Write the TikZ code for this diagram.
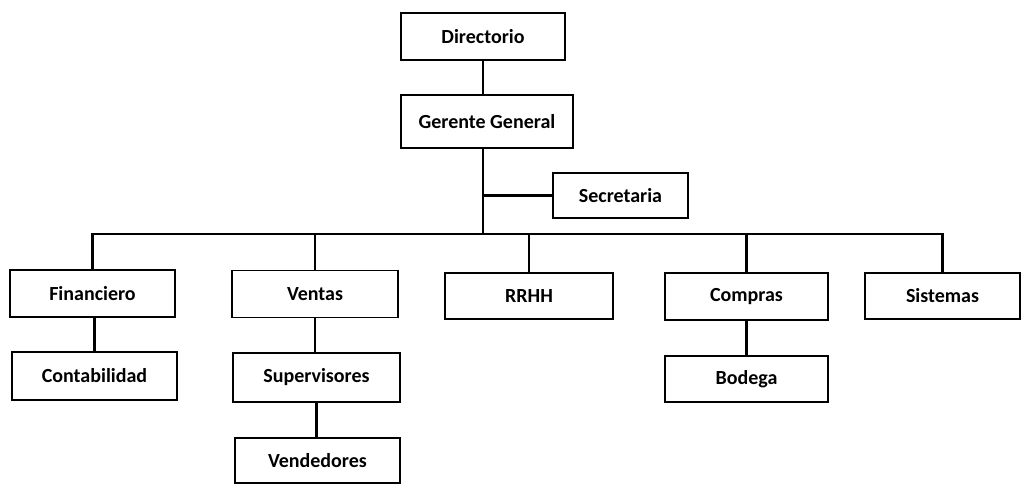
\documentclass[tikz,border=0pt]{standalone}
\usepackage{fontspec}
\setmainfont{Carlito}
\begin{document}
\begin{tikzpicture}[
      x=1pt, y=-1pt,
      every node/.style={inner sep=0pt,font=\fontsize{20}{24}\selectfont\bfseries},
      unit/.style={draw,line width=1.3pt,minimum height=47pt},
      link/.style={line width=2.6pt}
    ]
      \useasboundingbox (0,0) rectangle (1022,485);
      % top of the chart
      \node[unit,minimum width=164pt] (dir) at (483,36.5) {Directorio};
      \node[unit,minimum width=172pt,minimum height=53pt] (ger) at (487,121.5) {Gerente General};
      \node[unit,minimum width=135pt,minimum height=45pt] (sec) at (620.5,195.5) {Secretaria};
      \coordinate (bus) at (483,234);
      % departments
      \node[unit,minimum width=165pt] (fin) at (92.5,293.5) {Financiero};
      \node[unit,minimum width=166pt] (ven) at (315,294) {Ventas};
      \node[unit,minimum width=168pt,minimum height=46pt] (rrhh) at (529,296) {RRHH};
      \node[unit,minimum width=163pt] (com) at (746.5,296.5) {Compras};
      \node[unit,minimum width=155pt,minimum height=46pt] (sis) at (942.5,296) {Sistemas};
      % lower levels
      \node[unit,minimum width=165pt,minimum height=48pt] (con) at (94.5,376) {Contabilidad};
      \node[unit,minimum width=167pt,minimum height=49pt] (sup) at (316.5,377.5) {Supervisores};
      \node[unit,minimum width=165pt,minimum height=45pt] (vend) at (317.5,460.5) {Vendedores};
      \node[unit,minimum width=163pt,minimum height=46pt] (bod) at (746.5,379) {Bodega};
      % connectors
      \draw[link] (dir.south) -- (dir.south |- ger.north);
      \draw[link] (ger.south -| bus) -- (bus);
      \draw[link] (sec.west -| bus) -- (sec.west);
      \draw[link] (fin.north) -- (fin.north |- bus) -- (sis.north |- bus) -- (sis.north);
      \foreach \n in {ven,rrhh,com}
        \draw[link] (\n.north) -- (\n.north |- bus);
      \draw[link] (fin.south) -- (fin.south -| con.north) -- (con.north);
      \draw[link] (ven.south) -- (ven.south |- sup.north);
      \draw[link] (sup.south) -- (sup.south |- vend.north);
      \draw[link] (com.south) -- (com.south |- bod.north);
\end{tikzpicture}
\end{document}
